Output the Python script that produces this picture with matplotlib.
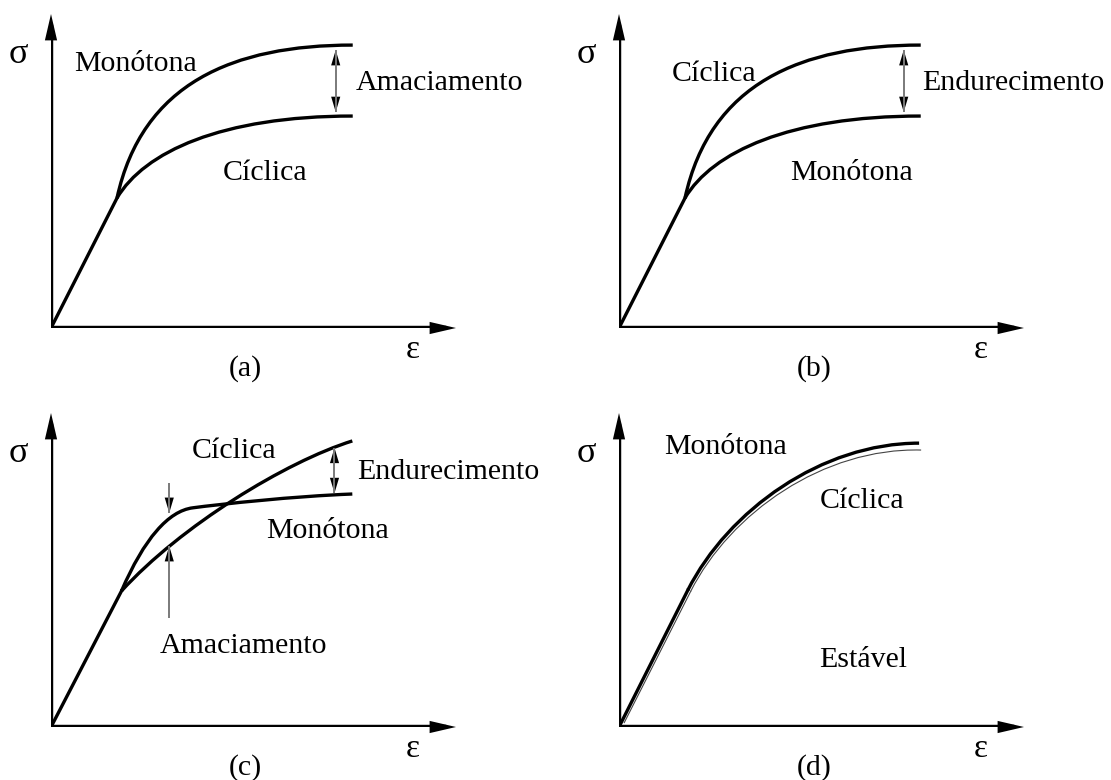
import matplotlib.pyplot as plt
from matplotlib.path import Path
from matplotlib.patches import PathPatch, FancyArrowPatch

plt.rcParams['font.family'] = ['Liberation Serif', 'DejaVu Serif']

# strain / stress in normalised units: 1.0 is the end of each drawn axis
# curves are cubic Bezier runs: start, handle, handle, end (, handle, handle, end ...)

# (a) and (b): one curve above the other, same shapes
knee_ab = (0.163, 0.414)
upper_ab = [(0.163, 0.414), (0.225, 0.78), (0.45, 0.901), (0.745, 0.901)]
lower_ab = [(0.163, 0.414), (0.23, 0.56), (0.42, 0.675), (0.745, 0.675)]
gap_ab = (0.703, 0.688, 0.885)          # strain, lower tip, upper tip

# (c): mixed behaviour, curves cross
knee_c = (0.174, 0.433)
mono_c = [(0.174, 0.433), (0.23, 0.60), (0.29, 0.688), (0.35, 0.698),
          (0.42, 0.71), (0.60, 0.735), (0.744, 0.742)]
cyc_c = [(0.174, 0.433), (0.32, 0.64), (0.58, 0.845), (0.744, 0.911)]
gap_c = (0.700, 0.745, 0.889)
soft_down_c = (0.292, 0.777, 0.682)     # strain, tail, tip
soft_up_c = (0.292, 0.347, 0.576)

# (d): stable, cyclic curve just under the monotonic one
knee_d = (0.170, 0.436)
mono_d = [(0.170, 0.436), (0.27, 0.69), (0.50, 0.904), (0.741, 0.904)]
cyc_d_start = (0.013, 0.014)
cyc_d = [(0.177, 0.432), (0.275, 0.682), (0.505, 0.890), (0.746, 0.882)]

# panel texts: (text, strain, stress)
labels_a = [('Monótona', 0.057, 0.818), ('Amaciamento', 0.752, 0.758),
            ('Cíclica', 0.423, 0.471)]
labels_b = [('Cíclica', 0.131, 0.786), ('Endurecimento', 0.748, 0.759),
            ('Monótona', 0.423, 0.472)]
labels_c = [('Cíclica', 0.348, 0.857), ('Endurecimento', 0.757, 0.791),
            ('Monótona', 0.532, 0.602), ('Amaciamento', 0.269, 0.237)]
labels_d = [('Monótona', 0.111, 0.869), ('Cíclica', 0.495, 0.696),
            ('Estável', 0.493, 0.190)]
panel_tags = ['(a)', '(b)', '(c)', '(d)']

W, H = 1111, 780
FS = 21.5
LW_AX = 3.2
LW_CURVE = 2.4
GREY = '#7a7a7a'


def bezier(ax, pts, lw=LW_CURVE, color='black'):
    codes = [Path.MOVETO] + [Path.CURVE4] * (len(pts) - 1)
    ax.add_patch(PathPatch(Path(pts, codes), fill=False, lw=lw,
                           edgecolor=color, capstyle='butt', clip_on=False))


def head(ax, frm, tip, length, half):
    # filled arrow head only, the shaft is drawn separately
    ax.add_patch(FancyArrowPatch(
        frm, tip, arrowstyle=f'-|>,head_length={length},head_width={half}',
        mutation_scale=1, lw=0, color='black', shrinkA=0, shrinkB=0,
        clip_on=False))


def grey_arrow(ax, x, y0, y1, both=False):
    ax.plot([x, x], [y0, y1], color=GREY, lw=1.4, solid_capstyle='butt')
    head(ax, (x, y0), (x, y1), 11, 3.3)
    if both:
        head(ax, (x, y1), (x, y0), 11, 3.3)


def panel(ox, oy, tag):
    ax = fig.add_axes([ox / W, (H - oy) / H, 405 / W, 314 / H])
    ax.set_xlim(0, 1)
    ax.set_ylim(0, 1)
    ax.axis('off')
    # strain and stress axes with arrow heads
    ax.plot([0, 0.97], [0, 0], color='black', lw=LW_AX, solid_capstyle='projecting')
    ax.plot([0, 0], [0, 0.96], color='black', lw=LW_AX, solid_capstyle='projecting')
    head(ax, (0, 0), (1, 0), 19, 4.4)
    head(ax, (0, 0), (0, 1), 19, 4.4)
    ax.text(-0.080, 0.844, 'σ', fontsize=26, ha='center', va='baseline')
    ax.text(0.894, -0.096, 'ε', fontsize=24, ha='center', va='baseline')
    ax.text(0.481, -0.152, tag, fontsize=FS, ha='center', va='baseline')
    return ax


def put_labels(ax, labels):
    for txt, e, s in labels:
        ax.text(e, s, txt, fontsize=FS, ha='left', va='baseline')


fig = plt.figure(figsize=(W / 100, H / 100), dpi=100)

# (a) cyclic softening
ax = panel(51, 328, panel_tags[0])
ax.plot([0, knee_ab[0]], [0, knee_ab[1]], color='black', lw=LW_CURVE)
bezier(ax, upper_ab)
bezier(ax, lower_ab)
grey_arrow(ax, gap_ab[0], gap_ab[1], gap_ab[2], both=True)
put_labels(ax, labels_a)

# (b) cyclic hardening
ax = panel(619, 328, panel_tags[1])
ax.plot([0, knee_ab[0]], [0, knee_ab[1]], color='black', lw=LW_CURVE)
bezier(ax, upper_ab)
bezier(ax, lower_ab)
grey_arrow(ax, gap_ab[0], gap_ab[1], gap_ab[2], both=True)
put_labels(ax, labels_b)

# (c) mixed
ax = panel(51, 727, panel_tags[2])
ax.plot([0, knee_c[0]], [0, knee_c[1]], color='black', lw=LW_CURVE)
bezier(ax, mono_c)
bezier(ax, cyc_c)
grey_arrow(ax, gap_c[0], gap_c[1], gap_c[2], both=True)
grey_arrow(ax, *soft_down_c)
grey_arrow(ax, *soft_up_c)
put_labels(ax, labels_c)

# (d) stable
ax = panel(619, 727, panel_tags[3])
ax.plot([cyc_d_start[0], cyc_d[0][0]], [cyc_d_start[1], cyc_d[0][1]],
        color='#444444', lw=0.8)
bezier(ax, cyc_d, lw=0.8, color='#444444')
ax.plot([0, knee_d[0]], [0, knee_d[1]], color='black', lw=LW_CURVE)
bezier(ax, mono_d)
put_labels(ax, labels_d)

fig.savefig('out.png', dpi=100, facecolor='white')
